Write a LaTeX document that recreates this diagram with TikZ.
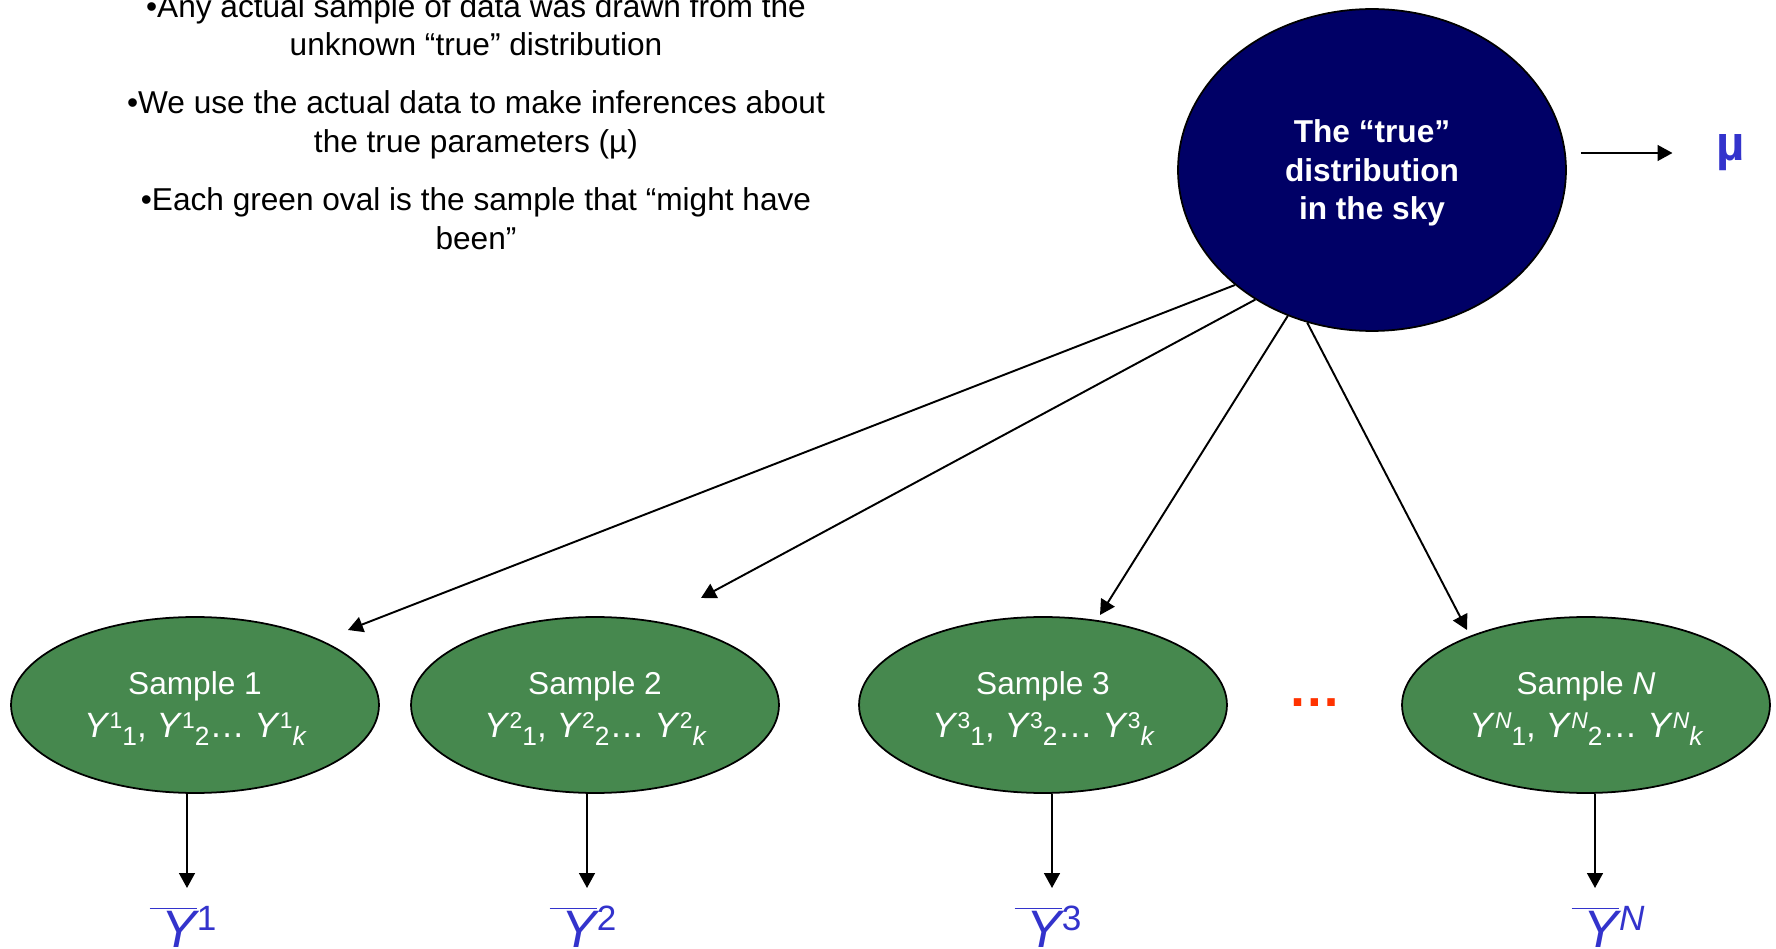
\documentclass[tikz,border=0pt]{standalone}
\usepackage{fontspec}
\setmainfont{Liberation Sans}
\usepackage{tikz}
\usetikzlibrary{arrows.meta, positioning, shapes.geometric, calc}
\definecolor{skynavy}{RGB}{0, 0, 102}
\definecolor{samplegreen}{RGB}{70, 136, 78}
\definecolor{meanblue}{RGB}{51, 51, 204}
\definecolor{dotsred}{RGB}{255, 51, 0}
\newcommand{\ysamp}[2]{\textit{Y}\raisebox{5pt}{\fontsize{13}{13}\selectfont #1}\raisebox{-5pt}{\fontsize{15}{15}\selectfont #2}}
\newcommand{\yline}[1]{{\fontsize{20}{24}\selectfont \ysamp{#1}{1}, \ysamp{#1}{2}… \ysamp{#1}{\itshape k}}}
\newcommand{\ybar}[1]{$\overline{\hbox{\kern7pt\itshape Y}}$\raisebox{9.6pt}{\fontsize{20}{20}\selectfont #1}}
\newcommand{\topstrut}{\rule{0pt}{17.5pt}}

\begin{document}
\begin{tikzpicture}[x=0.02cm, y=-0.02cm,
        sky/.style={ellipse, draw=black, line width=1pt, fill=skynavy, minimum width=7.76cm, minimum height=6.44cm, inner sep=0pt, align=center, text=white, font=\fontsize{18}{22}\selectfont\bfseries},
        sample/.style={ellipse, draw=black, line width=1pt, fill=samplegreen, minimum width=7.36cm, minimum height=3.52cm, inner sep=0pt, align=center, text=white, font=\fontsize{18}{24}\selectfont},
        mean/.style={text=meanblue, inner sep=0pt, anchor=base, font=\fontsize{30}{30}\selectfont},
        note/.style={align=center, inner sep=0pt, anchor=north, font=\fontsize{18}{22}\selectfont},
        arrow/.style={-{Triangle[length=8.5pt, width=9pt]}, line width=1.1pt}
    ]
        \useasboundingbox (0,0) rectangle (1776,949);
        \node[note] (notes) at (476,-6) {•Any actual sample of data was drawn from the\\unknown “true” distribution\\[11pt]•We use the actual data to make inferences about\\the true parameters (µ)\\[11pt]•Each green oval is the sample that “might have\\been”};
        \node[sky] (sky) at (1372,170) {\rule{0pt}{16.5pt}The “true”\\distribution\\in the sky};
        \node[text=meanblue, inner sep=0pt, font=\fontsize{28}{28}\selectfont\bfseries] (mu) at (1731,153) {µ};
        % samples
        \node[sample] (s1) at (195,705) {\topstrut Sample 1\\\yline{1}};
        \node[sample] (s2) at (595,705) {\topstrut Sample 2\\\yline{2}};
        \node[sample] (s3) at (1043,705) {\topstrut Sample 3\\\yline{3}};
        \node[sample] (sn) at (1586,705) {\topstrut Sample \textit{N}\\\yline{\itshape N}};
        \node[text=dotsred, inner sep=0pt, font=\fontsize{30}{30}\selectfont\bfseries] (dots) at (1315,703) {…};
        % sample means
        \node[mean] (m1) at (183,947) {\ybar{1}};
        \node[mean] (m2) at (583,947) {\ybar{2}};
        \node[mean] (m3) at (1048,947) {\ybar{3}};
        \node[mean] (mn) at (1608,947) {\ybar{\itshape N}};
        % arrow ends
        \coordinate (in1) at (348,630);
        \coordinate (in2) at (701,598);
        \coordinate (in3) at (1100,615);
        \coordinate (in4) at (1467,630);
        \coordinate (out1) at (187,888);
        \coordinate (out2) at (587,888);
        \coordinate (out3) at (1052,888);
        \coordinate (outn) at (1595,888);
        \draw[arrow] (sky.220) -- (in1);
        \draw[arrow] (sky.228) -- (in2);
        \draw[arrow] (sky.240) -- (in3);
        \draw[arrow] (sky.247) -- (in4);
        \draw[arrow, shorten <=0.28cm, shorten >=0.88cm] (sky.east |- mu) -- (mu.west);
        \draw[arrow] (s1.south -| out1) -- (out1);
        \draw[arrow] (s2.south -| out2) -- (out2);
        \draw[arrow] (s3.south -| out3) -- (out3);
        \draw[arrow] (sn.south -| outn) -- (outn);
    \end{tikzpicture}
\end{document}
